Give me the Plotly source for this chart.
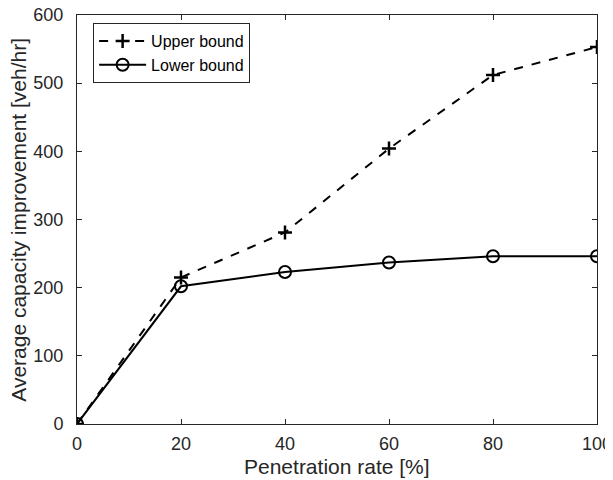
import plotly.graph_objects as go

penetration = [0, 20, 40, 60, 80, 100]
upper_bound = [0, 215, 281, 404, 512, 553]
lower_bound = [0, 202, 223, 237, 246, 246]
x_ticks = [0, 20, 40, 60, 80, 100]
y_ticks = [0, 100, 200, 300, 400, 500, 600]

FONT = "Liberation Sans, Arial, sans-serif"
AXC = "#262626"

fig = go.Figure()
fig.add_trace(go.Scatter(
    x=penetration, y=upper_bound, name="Upper bound", mode="lines+markers",
    line=dict(color="black", width=2, dash="dash"),
    marker=dict(symbol="cross-thin", size=10, line=dict(color="black", width=2.5), color="black"),
))
fig.add_trace(go.Scatter(
    x=penetration, y=lower_bound, name="Lower bound", mode="lines+markers",
    line=dict(color="black", width=2),
    marker=dict(symbol="circle-open", size=12, line=dict(color="black", width=2), color="black"),
))

axis_common = dict(
    showgrid=False, zeroline=False, showline=True, linecolor=AXC, linewidth=1,
    mirror="ticks", ticks="inside", ticklen=5, tickcolor=AXC, automargin=False,
    ticklabeloverflow="allow",
    tickfont=dict(family=FONT, size=18, color=AXC),
)
fig.update_xaxes(range=[0, 100], tickvals=x_ticks, ticklabelstandoff=3, **axis_common)
fig.update_yaxes(range=[0, 600], tickvals=y_ticks, ticklabelstandoff=9, **axis_common)

fig.update_layout(
    width=605, height=472,
    margin=dict(l=69, r=16, t=7, b=56),
    plot_bgcolor="white", paper_bgcolor="white",
    font=dict(family=FONT, color=AXC),
    legend=dict(x=0.031, y=0.907, xanchor="left", yanchor="middle",
                bordercolor=AXC, borderwidth=1, bgcolor="white",
                font=dict(family=FONT, size=16, color="black"),
                tracegroupgap=0, itemwidth=47),
    showlegend=True,
    annotations=[
        dict(text="Penetration rate [%]", xref="paper", yref="paper", x=0.5, y=-0.105,
             xanchor="center", yanchor="middle", showarrow=False,
             font=dict(family=FONT, size=21, color=AXC)),
        dict(text="Average capacity improvement [veh/hr]", xref="paper", yref="paper",
             x=-0.113, y=0.5, xanchor="center", yanchor="middle", textangle=-90, showarrow=False,
             font=dict(family=FONT, size=21, color=AXC)),
    ],
)

fig.write_html("out.html")
